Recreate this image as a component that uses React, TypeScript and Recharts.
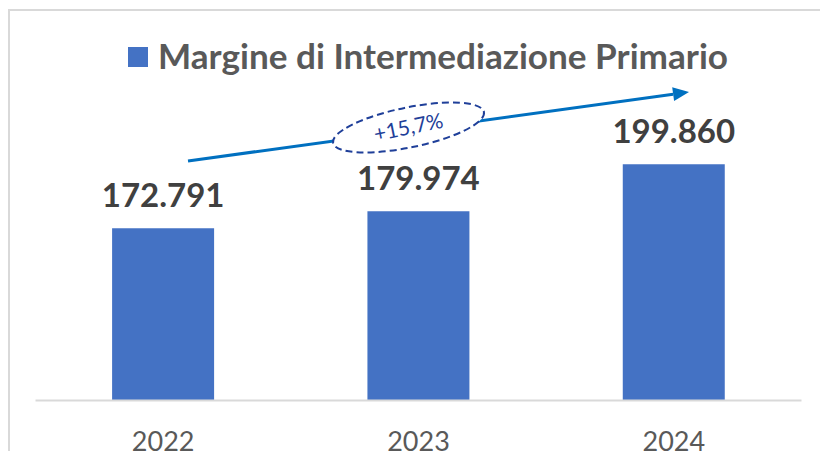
import React from "react";
import { BarChart, Bar, XAxis, YAxis, LabelList } from "recharts";

const BAR_COLOR = "#4472C4";
const TEXT_COLOR = "#595959";
const LABEL_COLOR = "#404040";
const ARROW_COLOR = "#0070C0";
const NOTE_COLOR = "#1F3F99";
const FONT = "Lato, 'Open Sans', sans-serif";

const years = ["2022", "2023", "2024"];
const margine = [172791, 179974, 199860];
const seriesName = "Margine di Intermediazione Primario";
const growthLabel = "+15,7%";

const data = years.map((year, i) => ({ year, value: margine[i] }));

// Italian thousands separator
const fmt = (v: number) => String(v).replace(/\B(?=(\d{3})+(?!\d))/g, ".");

// Trend arrow + dashed ellipse note (annotation only)
const Annotation: React.FC = () => {
  const x1 = 188, y1 = 161, x2 = 689, y2 = 92;
  const ang = Math.atan2(y2 - y1, x2 - x1);
  const len = 16, half = 7;
  const bx = x2 - len * Math.cos(ang);
  const by = y2 - len * Math.sin(ang);
  const px = -Math.sin(ang) * half;
  const py = Math.cos(ang) * half;
  const cx = 408.5, cy = 127.5;
  return (
    <svg width={820} height={451} style={{ position: "absolute", left: 0, top: 0, pointerEvents: "none" }}>
      <line x1={x1} y1={y1} x2={bx} y2={by} stroke={ARROW_COLOR} strokeWidth={3} />
      <polygon points={`${x2},${y2} ${bx + px},${by + py} ${bx - px},${by - py}`} fill={ARROW_COLOR} />
      <g transform={`rotate(-11.6 ${cx} ${cy})`}>
        <ellipse cx={cx} cy={cy} rx={77} ry={20} fill="#ffffff" stroke={NOTE_COLOR} strokeWidth={2} strokeDasharray="7 4" />
        <text x={cx} y={cy + 7} textAnchor="middle" fill={NOTE_COLOR} style={{ fontFamily: FONT, fontSize: 21 }}>
          {growthLabel}
        </text>
      </g>
      <rect x={128} y={47} width={20} height={20} fill={BAR_COLOR} />
      <text
        x={158}
        y={69}
        fill={TEXT_COLOR}
        textLength={570}
        lengthAdjust="spacingAndGlyphs"
        style={{ fontFamily: FONT, fontSize: 34, fontWeight: "bold" }}
      >
        {seriesName}
      </text>
    </svg>
  );
};

export default function App() {
  return (
    <div style={{ position: "absolute", left: 0, top: 0, width: 820, height: 451, overflow: "hidden", background: "#fff" }}>
      <div
        style={{
          position: "absolute",
          left: 8,
          top: 9,
          width: 900,
          height: 600,
          borderLeft: "2px solid #d9d9d9",
          borderTop: "2px solid #d9d9d9",
        }}
      />
      <div style={{ position: "absolute", left: 0, top: 0 }}>
        <BarChart
          width={820}
          height={451}
          data={data}
          margin={{ top: 116.7, right: 18.5, bottom: 10.5, left: 35.5 }}
          barCategoryGap="30%"
        >
          <XAxis
            dataKey="year"
            height={40}
            tickLine={false}
            tickSize={0}
            tickMargin={31}
            axisLine={{ stroke: "#d9d9d9", strokeWidth: 2 }}
            tick={{ fill: TEXT_COLOR, fontSize: 27, fontFamily: FONT }}
          />
          <YAxis hide domain={[100000, 220000]} />
          <Bar dataKey="value" fill={BAR_COLOR} isAnimationActive={false}>
            <LabelList
              dataKey="value"
              position="top"
              offset={21}
              formatter={(v: any) => fmt(Number(v))}
              style={{ fill: LABEL_COLOR, fontSize: 33, fontWeight: "bold", fontFamily: FONT }}
            />
          </Bar>
        </BarChart>
      </div>
      <Annotation />
    </div>
  );
}
